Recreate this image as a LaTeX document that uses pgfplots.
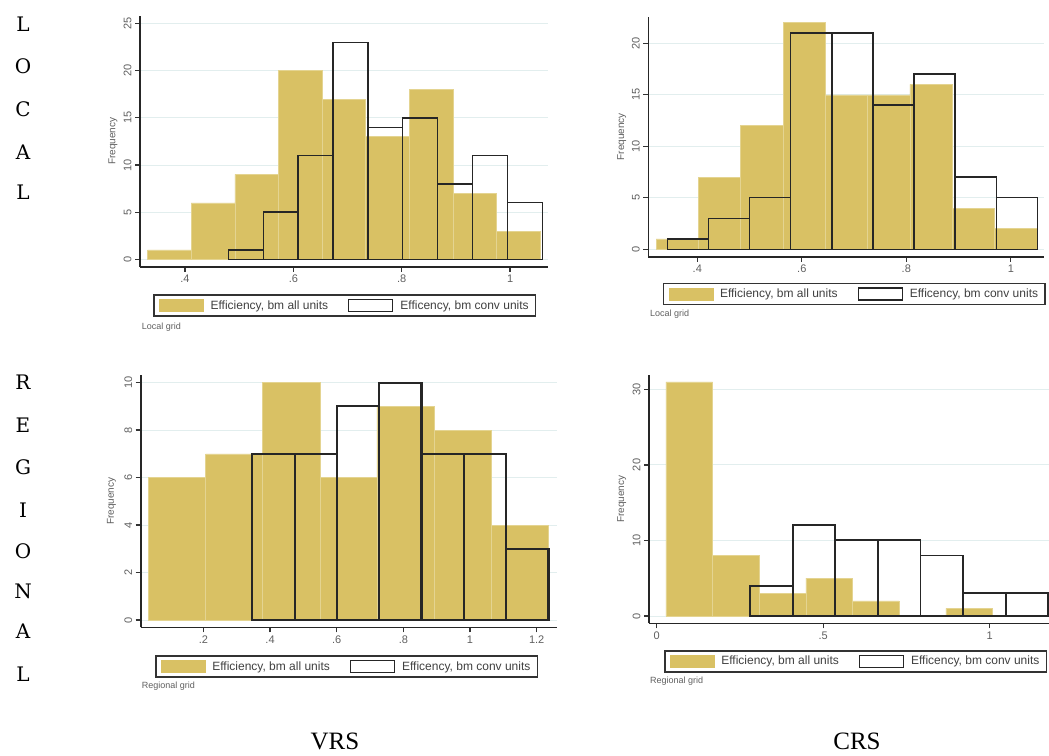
\documentclass[border=0pt]{standalone}
\usepackage{pgfplots}
\pgfplotsset{compat=1.18}
\usepackage{fontspec}
\setmainfont{Liberation Sans}
\newfontfamily\dvserif{DejaVu Serif}
\newfontfamily\tmserif{Liberation Serif}
\definecolor{goldc}{RGB}{217,193,100}
\definecolor{goldl}{RGB}{228,212,145}
\definecolor{gridc}{RGB}{226,238,238}
\definecolor{labc}{RGB}{95,95,95}

\pgfplotsset{
  stata/.style={
    scale only axis,
    axis x line=bottom, axis y line=left,
    axis line style={-, line width=1.6pt, black!85},
    tick align=outside, major tick length=5pt,
    tick style={line width=1.2pt, black!80},
    ymajorgrids, grid style={line width=0.9pt, gridc},
    /pgf/number format/assume math mode=true,
    ticklabel style={font=\fontsize{11}{12}\selectfont, text=labc},
    yticklabel style={rotate=90, anchor=south},
    ylabel={Frequency},
    ylabel style={font=\fontsize{10}{11}\selectfont, text=labc, anchor=center},
    legend columns=2,
    legend cell align=left,
    legend style={anchor=north west, draw=black!80, line width=1.6pt, fill=white,
      inner xsep=5pt, inner ysep=3.5pt, font=\fontsize{12}{14}\selectfont, text=black!75,
      /tikz/every odd column/.append style={column sep=5pt},
      /tikz/every even column/.append style={column sep=18pt}},
  },
  allunits/.style={ybar interval, fill=goldc, draw=goldl, line width=0.5pt,
    legend image code/.code={\fill[goldc] (0pt,-6pt) rectangle (44pt,6pt);}},
  convunits/.style={ybar interval, fill=none, draw=black!85, line width=#1,
    legend image code/.code={\draw[black!85, line width=1.2pt, fill=white] (0pt,-6pt) rectangle (44pt,6pt);}},
}

\begin{document}
\begin{tikzpicture}
\useasboundingbox (0pt,0pt) rectangle (1049pt,-755pt);

% ---------- Panel 1: Local, VRS ----------
\begin{axis}[stata, at={(140pt,-266.7pt)}, anchor=south west, width=408pt, height=250.7pt,
  xmin=0.317, xmax=1.070, ymin=-0.78, ymax=25.8,
  xtick={0.4,0.6,0.8,1}, xticklabels={.4,.6,.8,1},
  ytick={0,5,10,15,20,25},
  ylabel style={at={(axis description cs:-0.066,0.5)}},
  legend style={at={(axis description cs:0.0326,-0.109)}}]
\addplot[allunits] coordinates {(0.331,1) (0.4115,6) (0.492,9) (0.5725,20) (0.653,17) (0.7335,13) (0.814,18) (0.8945,7) (0.975,3) (1.0555,0)};
\addlegendentry{Efficiency, bm all units}
\addplot[convunits=1.4pt] coordinates {(0.480,1) (0.5444,5) (0.6088,11) (0.6732,23) (0.7376,14) (0.802,15) (0.8664,8) (0.9308,11) (0.9952,6) (1.0596,0)};
\addlegendentry{Efficency, bm conv units}
\end{axis}

% ---------- Panel 2: Local, CRS ----------
\begin{axis}[stata, at={(648.3pt,-256.7pt)}, anchor=south west, width=395.7pt, height=240pt,
  xmin=0.3062, xmax=1.0635, ymin=-0.72, ymax=22.58,
  xtick={0.4,0.6,0.8,1}, xticklabels={.4,.6,.8,1},
  ytick={0,5,10,15,20},
  ylabel style={at={(axis description cs:-0.067,0.5)}},
  legend style={at={(axis description cs:0.0364,-0.108)}}]
\addplot[allunits] coordinates {(0.321,1) (0.402,7) (0.483,12) (0.564,22) (0.645,15) (0.726,15) (0.807,16) (0.888,4) (0.969,2) (1.050,0)};
\addlegendentry{Efficiency, bm all units}
\addplot[convunits=1.4pt] coordinates {(0.3426,1) (0.4213,3) (0.5000,5) (0.5787,21) (0.6574,21) (0.7361,14) (0.8148,17) (0.8935,7) (0.9722,5) (1.0509,0)};
\addlegendentry{Efficency, bm conv units}
\end{axis}

% ---------- Panel 3: Regional, VRS ----------
\begin{axis}[stata, at={(140.7pt,-627.3pt)}, anchor=south west, width=416pt, height=252.3pt,
  xmin=0.012, xmax=1.260, ymin=-0.31, ymax=10.32,
  xtick={0.2,0.4,0.6,0.8,1,1.2}, xticklabels={.2,.4,.6,.8,1,1.2},
  ytick={0,2,4,6,8,10},
  ylabel style={at={(axis description cs:-0.070,0.5)}},
  legend style={at={(axis description cs:0.0344,-0.110)}}]
\addplot[allunits] coordinates {(0.035,6) (0.2064,7) (0.3778,10) (0.5492,6) (0.7206,9) (0.892,8) (1.0634,4) (1.2348,0)};
\addlegendentry{Efficiency, bm all units}
\addplot[convunits=2.2pt] coordinates {(0.347,7) (0.4739,7) (0.6008,9) (0.7277,10) (0.8546,7) (0.9815,7) (1.1084,3) (1.2353,0)};
\addlegendentry{Efficency, bm conv units}
\end{axis}

% ---------- Panel 4: Regional, CRS ----------
\begin{axis}[stata, at={(649pt,-623.3pt)}, anchor=south west, width=403pt, height=248.3pt,
  xmin=-0.023, xmax=1.187, ymin=-0.97, ymax=31.9,
  xtick={0,0.5,1}, xticklabels={0,.5,1},
  ytick={0,10,20,30},
  ylabel style={at={(axis description cs:-0.068,0.5)}},
  legend style={at={(axis description cs:0.0372,-0.1075)}}]
\addplot[allunits] coordinates {(0.028,31) (0.168,8) (0.308,3) (0.448,5) (0.588,2) (0.728,0) (0.868,1) (1.008,0)};
\addlegendentry{Efficiency, bm all units}
\addplot[convunits=1.9pt] coordinates {(0.280,4) (0.408,12) (0.536,10) (0.664,10) (0.792,8) (0.920,3) (1.048,3) (1.176,0)};
\addlegendentry{Efficency, bm conv units}
\end{axis}

% ---------- notes ----------
\begin{scope}[every node/.style={font=\fontsize{9}{10}\selectfont, text=labc, inner sep=0pt, anchor=west}]
\node at (141.7pt,-326.7pt) {Local grid};
\node at (650pt,-314pt) {Local grid};
\node at (141.7pt,-686pt) {Regional grid};
\node at (650pt,-680.7pt) {Regional grid};
\end{scope}

% ---------- side letters ----------
\begin{scope}[every node/.style={font=\dvserif\fontsize{20}{22}\selectfont, inner sep=0pt, anchor=center}]
\node at (23pt,-24pt) {L};
\node at (23pt,-66.7pt) {O};
\node at (23pt,-109pt) {C};
\node at (23pt,-152pt) {A};
\node at (23pt,-192.5pt) {L};
\node at (23pt,-382.5pt) {R};
\node at (23pt,-425pt) {E};
\node at (23pt,-467.5pt) {G};
\node at (23pt,-510pt) {I};
\node at (23pt,-551pt) {O};
\node at (23pt,-591.7pt) {N};
\node at (23pt,-631.7pt) {A};
\node at (23pt,-674pt) {L};
\end{scope}
\node[font=\tmserif\fontsize{25}{27}\selectfont, inner sep=0pt, anchor=center] at (335pt,-741pt) {VRS};
\node[font=\tmserif\fontsize{25}{27}\selectfont, inner sep=0pt, anchor=center] at (857pt,-741pt) {CRS};
\end{tikzpicture}
\end{document}
